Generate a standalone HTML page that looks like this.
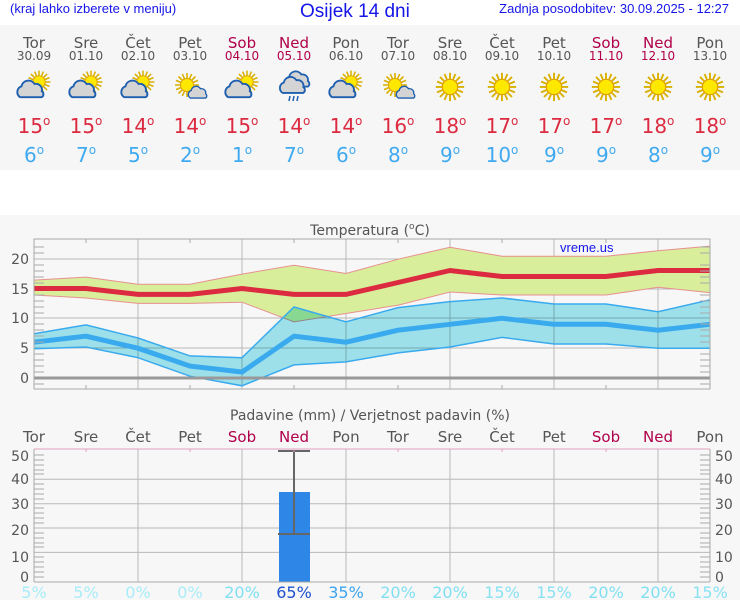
<!DOCTYPE html>
<html><head><meta charset="utf-8"><style>
html,body{margin:0;padding:0;background:#fff;width:740px;height:600px;overflow:hidden}
svg{display:block}
.t{font-family:"DejaVu Sans",sans-serif;fill:#555}
.h{font-family:"Liberation Sans",sans-serif;fill:#1515e8}
.d{font-size:12px}
</style></head><body>
<svg width="740" height="600" xmlns="http://www.w3.org/2000/svg">
<defs>
<g id="sun"><g stroke="#d8b000" stroke-width="1.6">
<line x1="0" y1="-12" x2="0" y2="12"/><line x1="-12" y1="0" x2="12" y2="0"/>
<line x1="-8.5" y1="-8.5" x2="8.5" y2="8.5"/><line x1="-8.5" y1="8.5" x2="8.5" y2="-8.5"/>
<line x1="-4.6" y1="-11" x2="4.6" y2="11"/><line x1="4.6" y1="-11" x2="-4.6" y2="11"/>
<line x1="-11" y1="-4.6" x2="11" y2="4.6"/><line x1="-11" y1="4.6" x2="11" y2="-4.6"/></g>
<circle r="6.5" fill="#ffe800" stroke="#e0a000" stroke-width="1"/></g>
<g id="cloud"><path d="M-9,6 a5,5 0 0 1 1,-9 a6,6 0 0 1 11,-2 a5,5 0 0 1 6,6 a3,3 0 0 1 0,5 z" fill="#d4d4d4" stroke="#1f5fb0" stroke-width="1.6"/></g>
<g id="pc"><use href="#sun" transform="translate(5,-5) scale(0.95)"/><use href="#cloud" transform="translate(-3,3) scale(1.2)"/></g>
<g id="sc"><use href="#sun" transform="translate(-3,-2) scale(1)"/><use href="#cloud" transform="translate(8,6) scale(0.85)"/></g>
<g id="rain"><use href="#cloud" transform="translate(4,-7) scale(1.1)"/><use href="#cloud" transform="translate(-1,-1) scale(1.15)"/>
<g stroke="#1f5fb0" stroke-width="1.5"><line x1="-4" y1="9" x2="-5" y2="14"/><line x1="0" y1="9" x2="-1" y2="14"/><line x1="4" y1="9" x2="3" y2="14"/></g></g>
</defs>

<text class="h" x="10" y="13" font-size="13">(kraj lahko izberete v meniju)</text>
<text class="h" x="300" y="17" font-size="19">Osijek 14 dni</text>
<text class="h" x="729" y="13" font-size="13" text-anchor="end">Zadnja posodobitev: 30.09.2025 - 12:27</text>

<rect x="0" y="25" width="740" height="145" fill="#f6f6f6"/>
<rect x="0" y="215" width="740" height="385" fill="#f7f7f7"/>

<g class="t" font-size="15" text-anchor="middle">
<text x="34" y="48">Tor</text><text x="86" y="48">Sre</text><text x="138" y="48">Čet</text><text x="190" y="48">Pet</text>
<text x="242" y="48" style="fill:#b0004a">Sob</text><text x="294" y="48" style="fill:#b0004a">Ned</text><text x="346" y="48">Pon</text>
<text x="398" y="48">Tor</text><text x="450" y="48">Sre</text><text x="502" y="48">Čet</text><text x="554" y="48">Pet</text>
<text x="606" y="48" style="fill:#b0004a">Sob</text><text x="658" y="48" style="fill:#b0004a">Ned</text><text x="710" y="48">Pon</text>
</g>
<g class="t" font-size="12" text-anchor="middle">
<text x="34" y="60">30.09</text><text x="86" y="60">01.10</text><text x="138" y="60">02.10</text><text x="190" y="60">03.10</text>
<text x="242" y="60" style="fill:#b0004a">04.10</text><text x="294" y="60" style="fill:#b0004a">05.10</text><text x="346" y="60">06.10</text>
<text x="398" y="60">07.10</text><text x="450" y="60">08.10</text><text x="502" y="60">09.10</text><text x="554" y="60">10.10</text>
<text x="606" y="60" style="fill:#b0004a">11.10</text><text x="658" y="60" style="fill:#b0004a">12.10</text><text x="710" y="60">13.10</text>
</g>
<use href="#pc" x="34" y="87"/><use href="#pc" x="86" y="87"/><use href="#pc" x="138" y="87"/><use href="#sc" x="190" y="87"/>
<use href="#pc" x="242" y="87"/><use href="#rain" x="294" y="87"/><use href="#pc" x="346" y="87"/><use href="#sc" x="398" y="87"/>
<use href="#sun" x="450" y="87" transform="translate(-81,-15.7) scale(1.18)"/>
<use href="#sun" x="502" y="87" transform="translate(-90.4,-15.7) scale(1.18)"/>
<use href="#sun" x="554" y="87" transform="translate(-99.7,-15.7) scale(1.18)"/>
<use href="#sun" x="606" y="87" transform="translate(-109.1,-15.7) scale(1.18)"/>
<use href="#sun" x="658" y="87" transform="translate(-118.4,-15.7) scale(1.18)"/>
<use href="#sun" x="710" y="87" transform="translate(-127.8,-15.7) scale(1.18)"/>

<g font-family="DejaVu Sans,sans-serif" font-size="20" fill="#dc2a40" text-anchor="middle">
<text x="34" y="133">15<tspan class="d" dy="-8">o</tspan></text><text x="86" y="133">15<tspan class="d" dy="-8">o</tspan></text><text x="138" y="133">14<tspan class="d" dy="-8">o</tspan></text><text x="190" y="133">14<tspan class="d" dy="-8">o</tspan></text>
<text x="242" y="133">15<tspan class="d" dy="-8">o</tspan></text><text x="294" y="133">14<tspan class="d" dy="-8">o</tspan></text><text x="346" y="133">14<tspan class="d" dy="-8">o</tspan></text><text x="398" y="133">16<tspan class="d" dy="-8">o</tspan></text>
<text x="450" y="133">18<tspan class="d" dy="-8">o</tspan></text><text x="502" y="133">17<tspan class="d" dy="-8">o</tspan></text><text x="554" y="133">17<tspan class="d" dy="-8">o</tspan></text><text x="606" y="133">17<tspan class="d" dy="-8">o</tspan></text>
<text x="658" y="133">18<tspan class="d" dy="-8">o</tspan></text><text x="710" y="133">18<tspan class="d" dy="-8">o</tspan></text>
</g>
<g font-family="DejaVu Sans,sans-serif" font-size="20" fill="#40aaf0" text-anchor="middle">
<text x="34" y="162">6<tspan class="d" dy="-8">o</tspan></text><text x="86" y="162">7<tspan class="d" dy="-8">o</tspan></text><text x="138" y="162">5<tspan class="d" dy="-8">o</tspan></text><text x="190" y="162">2<tspan class="d" dy="-8">o</tspan></text>
<text x="242" y="162">1<tspan class="d" dy="-8">o</tspan></text><text x="294" y="162">7<tspan class="d" dy="-8">o</tspan></text><text x="346" y="162">6<tspan class="d" dy="-8">o</tspan></text><text x="398" y="162">8<tspan class="d" dy="-8">o</tspan></text>
<text x="450" y="162">9<tspan class="d" dy="-8">o</tspan></text><text x="502" y="162">10<tspan class="d" dy="-8">o</tspan></text><text x="554" y="162">9<tspan class="d" dy="-8">o</tspan></text><text x="606" y="162">9<tspan class="d" dy="-8">o</tspan></text>
<text x="658" y="162">8<tspan class="d" dy="-8">o</tspan></text><text x="710" y="162">9<tspan class="d" dy="-8">o</tspan></text>
</g>

<text class="t" x="370" y="235" font-size="14" text-anchor="middle">Temperatura (<tspan font-size="9" dy="-6">o</tspan><tspan dy="6">C)</tspan></text>
<g stroke="#b8b8b8" stroke-width="1">
<line x1="34" y1="259" x2="710" y2="259"/><line x1="34" y1="289" x2="710" y2="289"/><line x1="34" y1="318" x2="710" y2="318"/><line x1="34" y1="348" x2="710" y2="348"/>
<line x1="138" y1="239" x2="138" y2="389"/><line x1="242" y1="239" x2="242" y2="389"/><line x1="346" y1="239" x2="346" y2="389"/><line x1="450" y1="239" x2="450" y2="389"/><line x1="554" y1="239" x2="554" y2="389"/><line x1="658" y1="239" x2="658" y2="389"/>
</g>
<polygon fill="#d8ee9a" points="34,280.1 86,277.1 138,284.3 190,284.3 242,274.1 294,265.2 346,273.5 398,259.2 450,247.3 502,256.2 554,256.2 606,256.2 658,250.8 710,246.1 710,292.6 658,287.3 606,295 554,295 502,295 450,292 398,305.2 346,313.5 294,321.9 242,302.2 190,303.4 138,303.4 86,298 34,295"/>
<polyline fill="none" stroke="#e89090" stroke-width="1" points="34,280.1 86,277.1 138,284.3 190,284.3 242,274.1 294,265.2 346,273.5 398,259.2 450,247.3 502,256.2 554,256.2 606,256.2 658,250.8 710,246.1"/>
<polyline fill="none" stroke="#e89090" stroke-width="1" points="34,295 86,298 138,303.4 190,303.4 242,302.2 294,321.9 346,313.5 398,305.2 450,292 502,295 554,295 606,295 658,287.3 710,292.6"/>
<polygon fill="#a2e8f2" style="mix-blend-mode:multiply" points="34,333.8 86,324.9 138,338 190,355.9 242,357.7 294,307 346,321.9 398,307.6 450,301.6 502,298 554,304 606,304 658,311.7 710,299.8 710,348.2 658,348.2 606,344 554,344 502,337.4 450,347 398,352.9 346,361.9 294,364.9 242,385.8 190,376.2 138,357.7 86,347 34,348.7"/>
<polyline fill="none" stroke="#3aaaee" stroke-width="1.5" points="34,333.8 86,324.9 138,338 190,355.9 242,357.7 294,307 346,321.9 398,307.6 450,301.6 502,298 554,304 606,304 658,311.7 710,299.8"/>
<polyline fill="none" stroke="#3aaaee" stroke-width="1.5" points="34,348.7 86,347 138,357.7 190,376.2 242,385.8 294,364.9 346,361.9 398,352.9 450,347 502,337.4 554,344 606,344 658,348.2 710,348.2"/>
<line x1="34" y1="378" x2="710" y2="378" stroke="#999" stroke-width="3"/>
<polyline fill="none" stroke="#dc2a40" stroke-width="5" points="34,288.5 86,288.5 138,294.4 190,294.4 242,288.5 294,294.4 346,294.4 398,282.5 450,270.5 502,276.5 554,276.5 606,276.5 658,270.5 710,270.5"/>
<polyline fill="none" stroke="#3aaaee" stroke-width="5" points="34,342.2 86,336.2 138,348.2 190,366.1 242,372 294,336.2 346,342.2 398,330.2 450,324.3 502,318.3 554,324.3 606,324.3 658,330.2 710,324.3"/>
<rect x="34" y="239" width="676" height="150" fill="none" stroke="#aaa"/>
<g stroke="#aaa"><path d="M34,253h10M34,265h10M34,271h10M34,277h10M34,283h10M34,295h10M34,301h10M34,307h10M34,313h10M34,324h10M34,330h10M34,336h10M34,342h10M34,354h10M34,360h10M34,366h10M34,372h10M34,384h10M34,247h10
M700,253h10M700,265h10M700,271h10M700,277h10M700,283h10M700,295h10M700,301h10M700,307h10M700,313h10M700,324h10M700,330h10M700,336h10M700,342h10M700,354h10M700,360h10M700,366h10M700,372h10M700,384h10M700,247h10
M86,239v4M190,239v4M294,239v4M398,239v4M502,239v4M606,239v4M86,389v-4M190,389v-4M294,389v-4M398,389v-4M502,389v-4M606,389v-4"/></g>
<g class="t" font-size="14" text-anchor="end">
<text x="29" y="264">20</text><text x="29" y="294">15</text><text x="29" y="323">10</text><text x="29" y="353">5</text><text x="29" y="383">0</text>
</g>
<text x="560" y="252" font-family="Liberation Sans,sans-serif" font-size="13" fill="#1515e8">vreme.us</text>

<text class="t" x="370" y="420" font-size="14" text-anchor="middle">Padavine (mm) / Verjetnost padavin (%)</text>
<g class="t" font-size="15" text-anchor="middle">
<text x="34" y="442">Tor</text><text x="86" y="442">Sre</text><text x="138" y="442">Čet</text><text x="190" y="442">Pet</text>
<text x="242" y="442" style="fill:#b0004a">Sob</text><text x="294" y="442" style="fill:#b0004a">Ned</text><text x="346" y="442">Pon</text>
<text x="398" y="442">Tor</text><text x="450" y="442">Sre</text><text x="502" y="442">Čet</text><text x="554" y="442">Pet</text>
<text x="606" y="442" style="fill:#b0004a">Sob</text><text x="658" y="442" style="fill:#b0004a">Ned</text><text x="710" y="442">Pon</text>
</g>
<g stroke="#b8b8b8">
<line x1="34" y1="552.4" x2="710" y2="552.4"/><line x1="34" y1="528" x2="710" y2="528"/><line x1="34" y1="503.7" x2="710" y2="503.7"/><line x1="34" y1="479.3" x2="710" y2="479.3"/>
<line x1="138" y1="449" x2="138" y2="582"/><line x1="242" y1="449" x2="242" y2="582"/><line x1="346" y1="449" x2="346" y2="582"/><line x1="450" y1="449" x2="450" y2="582"/><line x1="554" y1="449" x2="554" y2="582"/><line x1="658" y1="449" x2="658" y2="582"/>
</g>
<rect x="279" y="492" width="31" height="90" fill="#2e86e6"/>
<g stroke="#666" stroke-width="2"><line x1="294" y1="451" x2="294" y2="534"/><line x1="278" y1="451" x2="310" y2="451"/><line x1="278" y1="534" x2="310" y2="534"/></g>
<line x1="34" y1="582" x2="710" y2="582" stroke="#aaa"/>
<line x1="34" y1="449" x2="34" y2="582" stroke="#aaa"/><line x1="710" y1="449" x2="710" y2="582" stroke="#aaa"/>
<line x1="34" y1="449" x2="710" y2="449" stroke="#e0a0bc"/>
<g stroke="#aaa"><path d="M34,455h10M34,460h10M34,465h10M34,470h10M34,474h10M34,484h10M34,489h10M34,494h10M34,499h10M34,508h10M34,513h10M34,518h10M34,523h10M34,533h10M34,538h10M34,543h10M34,547h10M34,557h10M34,562h10M34,567h10M34,572h10M34,577h10
M700,455h10M700,460h10M700,465h10M700,470h10M700,474h10M700,484h10M700,489h10M700,494h10M700,499h10M700,508h10M700,513h10M700,518h10M700,523h10M700,533h10M700,538h10M700,543h10M700,547h10M700,557h10M700,562h10M700,567h10M700,572h10M700,577h10"/></g>
<g stroke="#e0a0bc"><path d="M86,449v3M190,449v3M294,449v3M398,449v3M502,449v3M606,449v3"/></g>
<g class="t" font-size="14" text-anchor="end">
<text x="29" y="461">50</text><text x="29" y="484">40</text><text x="29" y="509">30</text><text x="29" y="535">20</text><text x="29" y="562">10</text><text x="29" y="582">0</text>
</g>
<g class="t" font-size="14">
<text x="715" y="461">50</text><text x="715" y="484">40</text><text x="715" y="509">30</text><text x="715" y="535">20</text><text x="715" y="562">10</text><text x="715" y="582">0</text>
</g>
<g font-family="DejaVu Sans,sans-serif" font-size="16" text-anchor="middle">
<text x="34" y="598" fill="#a8ecf8">5%</text><text x="86" y="598" fill="#a8ecf8">5%</text><text x="138" y="598" fill="#a8ecf8">0%</text><text x="190" y="598" fill="#a8ecf8">0%</text>
<text x="242" y="598" fill="#80e0f2">20%</text><text x="294" y="598" fill="#2050d0">65%</text><text x="346" y="598" fill="#3aa4ee">35%</text><text x="398" y="598" fill="#80e0f2">20%</text>
<text x="450" y="598" fill="#80e0f2">20%</text><text x="502" y="598" fill="#88e2f4">15%</text><text x="554" y="598" fill="#88e2f4">15%</text><text x="606" y="598" fill="#80e0f2">20%</text>
<text x="658" y="598" fill="#80e0f2">20%</text><text x="710" y="598" fill="#88e2f4">15%</text>
</g>
</svg>
</body></html>
